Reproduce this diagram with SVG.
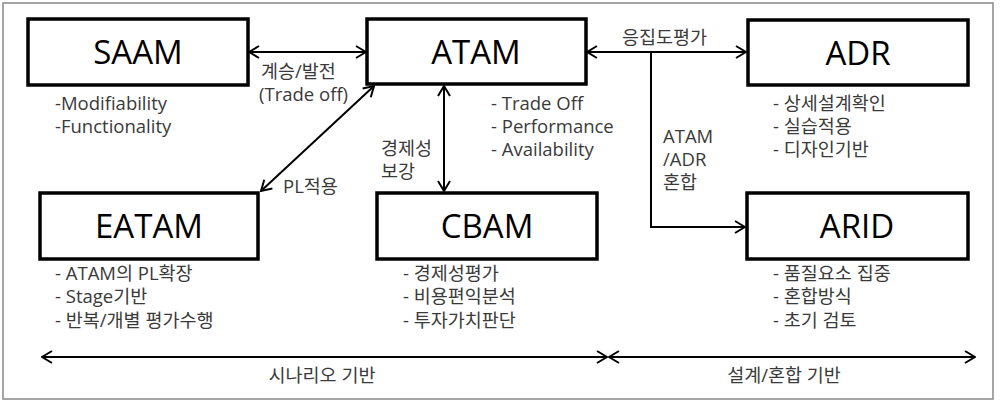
<svg xmlns="http://www.w3.org/2000/svg" width="1000" height="403" viewBox="0 0 1000 403">
<style>
.box{fill:#fff;stroke:#000;stroke-width:3.5}
.title{font-family:"Open Sans","Noto Sans CJK KR",sans-serif;font-size:33px;fill:#000;text-anchor:middle}
.t{font-family:"Open Sans","Noto Sans CJK KR",sans-serif;font-size:18.5px;fill:#3a3a3a}
.c{stroke:#000;stroke-width:2;fill:none}
</style>
<defs>
<marker id="ah" viewBox="0 0 12 14" refX="11" refY="7" markerWidth="12" markerHeight="14" markerUnits="userSpaceOnUse" orient="auto-start-reverse">
<path d="M1,1 L11,7 L1,13" fill="none" stroke="#000" stroke-width="2"/>
</marker>
</defs>
<rect x="3" y="3" width="990" height="396" fill="#fff" stroke="#888" stroke-width="1.5"/>
<g id="connectors">
<line class="c" x1="249" y1="52" x2="366" y2="52" marker-start="url(#ah)" marker-end="url(#ah)"/>
<line class="c" x1="587" y1="52" x2="746" y2="52" marker-start="url(#ah)" marker-end="url(#ah)"/>
<line class="c" x1="444" y1="86" x2="444" y2="191" marker-start="url(#ah)" marker-end="url(#ah)"/>
<line class="c" x1="261" y1="191" x2="374" y2="86" marker-start="url(#ah)" marker-end="url(#ah)"/>
<polyline class="c" points="651,52 651,227 745,227" marker-end="url(#ah)"/>
<line class="c" x1="42" y1="357" x2="607" y2="357" marker-start="url(#ah)" marker-end="url(#ah)"/>
<line class="c" x1="609" y1="357" x2="975" y2="357" marker-start="url(#ah)" marker-end="url(#ah)"/>
<text class="t" x="261" y="78">계승/발전</text>
<text class="t" x="259" y="101">(Trade off)</text>
<text class="t" x="381" y="155">경제성</text>
<text class="t" x="381" y="178">보강</text>
<text class="t" x="283" y="193">PL적용</text>
<text class="t" x="622" y="44">응집도평가</text>
<text class="t" x="663" y="143">ATAM</text>
<text class="t" x="663" y="166">/ADR</text>
<text class="t" x="663" y="189">혼합</text>
<text class="t" x="322" y="382" text-anchor="middle">시나리오 기반</text>
<text class="t" x="784" y="382" text-anchor="middle">설계/혼합 기반</text>
</g>
<g id="saam">
<rect class="box" x="28" y="19" width="220" height="66"/>
<text class="title" x="138" y="64">SAAM</text>
<text class="t" x="55" y="110">-Modifiability</text>
<text class="t" x="55" y="133">-Functionality</text>
</g>
<g id="atam">
<rect class="box" x="367" y="19" width="219" height="65"/>
<text class="title" x="476" y="64">ATAM</text>
<text class="t" x="491" y="110">- Trade Off</text>
<text class="t" x="491" y="133">- Performance</text>
<text class="t" x="491" y="156">- Availability</text>
</g>
<g id="adr">
<rect class="box" x="748" y="20" width="220" height="65"/>
<text class="title" x="858" y="65">ADR</text>
<text class="t" x="773" y="110">- 상세설계확인</text>
<text class="t" x="773" y="133">- 실습적용</text>
<text class="t" x="773" y="156">- 디자인기반</text>
</g>
<g id="eatam">
<rect class="box" x="40" y="193" width="218" height="66"/>
<text class="title" x="149" y="238">EATAM</text>
<text class="t" x="55" y="280">- ATAM의 PL확장</text>
<text class="t" x="55" y="303">- Stage기반</text>
<text class="t" x="55" y="327">- 반복/개별 평가수행</text>
</g>
<g id="cbam">
<rect class="box" x="377" y="193" width="220" height="66"/>
<text class="title" x="487" y="238">CBAM</text>
<text class="t" x="403" y="280">- 경제성평가</text>
<text class="t" x="403" y="303">- 비용편익분석</text>
<text class="t" x="403" y="327">- 투자가치판단</text>
</g>
<g id="arid">
<rect class="box" x="747" y="193" width="221" height="66"/>
<text class="title" x="857" y="238">ARID</text>
<text class="t" x="773" y="280">- 품질요소 집중</text>
<text class="t" x="773" y="303">- 혼합방식</text>
<text class="t" x="773" y="327">- 초기 검토</text>
</g>
</svg>
